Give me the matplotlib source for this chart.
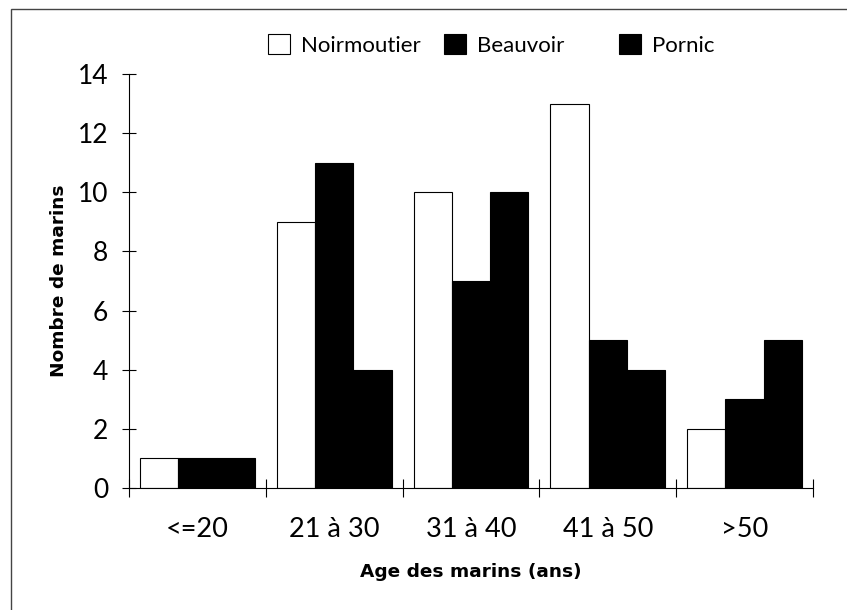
import matplotlib
matplotlib.use("Agg")
import matplotlib.pyplot as plt
import matplotlib.patches as mpatches
import numpy as np

categories = ["<=20", "21 à 30", "31 à 40", "41 à 50", ">50"]
series_names = ["Noirmoutier", "Beauvoir", "Pornic"]
noirmoutier = [1, 9, 10, 13, 2]
beauvoir = [1, 11, 7, 5, 3]
pornic = [1, 4, 10, 4, 5]
yticks = [0, 2, 4, 6, 8, 10, 12, 14]

plt.rcParams['font.family'] = ['Lato', 'DejaVu Sans']

W, H = 847, 610
fig = plt.figure(figsize=(W/100, H/100), dpi=100)
ax = fig.add_axes([129/W, 1-488/H, (813-129)/W, (488-74)/H])

x = np.arange(len(categories))
w = 0.28
colors = ["white", "black", "black"]
for k, (vals, c) in enumerate(zip([noirmoutier, beauvoir, pornic], colors)):
    ax.bar(x + (k-1)*w, vals, width=w, color=c, edgecolor="black", linewidth=0.8,
           label=series_names[k])

ax.set_xlim(-0.5, len(categories)-0.5)
ax.set_ylim(0, 14)
ax.set_yticks(yticks)
ax.set_yticklabels([str(t) for t in yticks], fontsize=19)
ax.set_xticks(np.arange(-0.5, len(categories)), minor=False)
ax.set_xticklabels([])
ax.set_xticks(x, minor=True)
ax.set_xticklabels(categories, minor=True, fontsize=19.5)
ax.tick_params(axis='x', which='minor', length=0, pad=21)
ax.tick_params(axis='x', which='major', direction='inout', length=13, width=0.8)
ax.tick_params(axis='y', direction='inout', length=10, width=0.8, pad=10)

for s in ['top', 'right']:
    ax.spines[s].set_visible(False)
ax.spines['left'].set_linewidth(0.8)
ax.spines['bottom'].set_linewidth(0.8)

ax.set_ylabel("Nombre de marins", fontsize=13.3, fontweight='bold',
              family='DejaVu Sans', va='center')
ax.yaxis.set_label_coords((59-129)/(813-129), 0.5)
ax.set_xlabel("Age des marins (ans)", fontsize=13.3, fontweight='bold',
              family='DejaVu Sans', va='center')
ax.xaxis.set_label_coords(0.5, (488-572)/(488-74))

legend_x = [268, 444, 619]
for name, c, lx in zip(series_names, colors, legend_x):
    h = mpatches.Patch(facecolor=c, edgecolor='black', linewidth=0.8)
    fig.legend([h], [name], loc='center left', bbox_to_anchor=(lx/W, 1-45/H),
               frameon=False, fontsize=16, handlelength=1.0, handleheight=1.0,
               handletextpad=0.5, borderpad=0, borderaxespad=0)

border = mpatches.Rectangle((10.5/W, -0.01), 1.0, 1 - 8.5/H + 0.01,
                            transform=fig.transFigure, fill=False, edgecolor='#444444',
                            linewidth=1.0)
fig.patches.append(border)

fig.savefig("out.png", dpi=100)
